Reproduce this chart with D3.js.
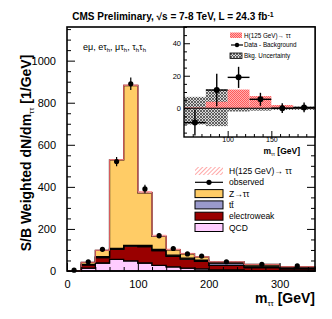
<!DOCTYPE html>
<html>
<head>
<meta charset="utf-8">
<script src="https://cdn.jsdelivr.net/npm/d3@7"></script>
<style>
  body { margin: 0; background: #fff; }
  svg { display: block; font-family: 'Liberation Sans', Arial, sans-serif; }
</style>
</head>
<body>
<div id="chart"></div>
<script>
// main histogram, 20 GeV bins then 50 GeV
const edges = [0, 20, 40, 60, 80, 100, 120, 140, 160, 180, 200, 250, 300, 350];
const qcd = [0, 14, 38, 55, 48, 38, 27, 20, 14, 10, 5, 2, 1];
const ewk = [0, 15, 26, 48, 70, 78, 70, 50, 42, 36, 22, 14, 9];
const ttbar = [0, 2, 4, 4, 4, 6, 6, 5, 5, 5, 10, 7, 4];
const ztt = [0, 10, 30, 421, 760, 250, 62, 26, 21, 16, 6, 8, 6];
const higgs = [0, 0, 1, 2, 3, 6, 5, 3, 2, 1, 1, 0.5, 0.3];
const observed = [4, 44, 103, 520, 890, 390, 168, 107, 81, 71, 44, 32, 24];
const observedErr = [2, 7, 10, 22, 30, 20, 12, 10, 8, 7, 4, 3, 3];
const yTicks = [0, 200, 400, 600, 800, 1000];
const xTicks = [0, 100, 200, 300];

// inset, 25 GeV bins
const insetEdges = [50, 75, 100, 125, 150, 175, 200];
const insetHiggs = [0.5, 4, 11.5, 7.5, 2, 0.5];
const insetUncUp = [7, 11.5, 2, 1.5, 1, 1];
const insetUncDown = [-10, -11, -2, -1.5, -1, -1];
const insetDiff = [-8.8, 11.2, 19, 5.5, 0, 0.5];
const insetDiffErr = [8, 10, 6.5, 4, 3, 3];
const insetYTicks = [0, 20, 40];
const insetXTicks = [100, 150];

const width = 332;
const height = 319;

const svg = d3.select('#chart').append('svg')
  .attr('width', width)
  .attr('height', height);

svg.append('rect').attr('width', width).attr('height', height).attr('fill', '#fff');

const defs = svg.append('defs');

// red hatch for signal
const hatch = defs.append('pattern')
  .attr('id', 'hatch')
  .attr('patternUnits', 'userSpaceOnUse')
  .attr('width', 3).attr('height', 3)
  .attr('patternTransform', 'rotate(45)');
hatch.append('rect').attr('width', 3).attr('height', 3).attr('fill', '#fff');
hatch.append('line').attr('x1', 0).attr('y1', 0).attr('x2', 0).attr('y2', 3)
  .attr('stroke', '#ff6f6f').attr('stroke-width', 1.2);

const hatchDense = defs.append('pattern')
  .attr('id', 'hatchDense')
  .attr('patternUnits', 'userSpaceOnUse')
  .attr('width', 2).attr('height', 2);
hatchDense.append('rect').attr('width', 2).attr('height', 2).attr('fill', '#ffb0b0');
hatchDense.append('rect').attr('width', 1).attr('height', 1).attr('fill', '#ff5a5a');
hatchDense.append('rect').attr('x', 1).attr('y', 1).attr('width', 1).attr('height', 1).attr('fill', '#ff5a5a');

const cross = defs.append('pattern')
  .attr('id', 'cross')
  .attr('patternUnits', 'userSpaceOnUse')
  .attr('width', 3).attr('height', 3);
cross.append('rect').attr('width', 3).attr('height', 3).attr('fill', '#d8d8d8');
cross.append('path').attr('d', 'M0,0L3,3M3,0L0,3').attr('stroke', '#444').attr('stroke-width', 0.8);

// ---- main plot ----
const pLeft = 67, pRight = 315, pTop = 27, pBottom = 271;
const x = d3.scaleLinear().domain([0, 350]).range([pLeft, pRight]);
const y = d3.scaleLinear().domain([0, 1160]).range([pBottom, pTop]);

const components = [
  {name: 'QCD', values: qcd, fill: '#ffccff'},
  {name: 'electroweak', values: ewk, fill: '#990000'},
  {name: 'tt', values: ttbar, fill: '#9999cc'},
  {name: 'ztt', values: ztt, fill: '#ffcc66'},
  {name: 'higgs', values: higgs, fill: 'url(#hatch)'},
];

const stepArea = d3.area()
  .x((d) => x(d.x))
  .y0((d) => y(d.y0))
  .y1((d) => y(d.y1))
  .curve(d3.curveStepAfter);

const base = edges.slice(0, -1).map(() => 0);
components.forEach((c) => {
  const pts = c.values.map((v, i) => ({x: edges[i], y0: base[i], y1: base[i] + v}));
  const n = pts.length - 1;
  pts.push({x: edges[n + 1], y0: pts[n].y0, y1: pts[n].y1});
  c.values.forEach((v, i) => { base[i] += v; });
  svg.append('path')
    .attr('d', stepArea(pts))
    .attr('fill', c.fill)
    .attr('stroke', c.name === 'higgs' ? '#ff6f6f' : '#000')
    .attr('stroke-width', c.name === 'higgs' ? 0.6 : 1.3);
});

// observed points
const centers = edges.slice(0, -1).map((e, i) => (e + edges[i + 1]) / 2);
const obs = svg.append('g');
obs.selectAll('line')
  .data(observed)
  .enter().append('line')
  .attr('x1', (d, i) => x(centers[i]))
  .attr('x2', (d, i) => x(centers[i]))
  .attr('y1', (d, i) => y(d - observedErr[i]))
  .attr('y2', (d, i) => y(d + observedErr[i]))
  .attr('stroke', '#000').attr('stroke-width', 1.2);
obs.selectAll('circle')
  .data(observed)
  .enter().append('circle')
  .attr('cx', (d, i) => x(centers[i]))
  .attr('cy', (d) => y(d))
  .attr('r', 2.6)
  .attr('fill', '#000');

// axes, ticks inside
const yAxisL = d3.axisLeft(y).tickValues(yTicks).tickFormat(d3.format('d')).tickSize(-8).tickPadding(11);
const yMinor = d3.range(0, 1160, 50).filter((v) => v % 200 !== 0);
const gy = svg.append('g').attr('transform', `translate(${pLeft},0)`).call(yAxisL);
gy.select('.domain').remove();
gy.selectAll('text').style('font-size', '11px').style('font-family', 'Liberation Sans, Arial, sans-serif');
svg.append('g').attr('transform', `translate(${pLeft},0)`)
  .call(d3.axisLeft(y).tickValues(yMinor).tickSize(-4).tickFormat(''))
  .select('.domain').remove();
svg.append('g').attr('transform', `translate(${pRight},0)`)
  .call(d3.axisRight(y).tickValues(yTicks).tickSize(-8).tickFormat(''))
  .select('.domain').remove();
svg.append('g').attr('transform', `translate(${pRight},0)`)
  .call(d3.axisRight(y).tickValues(yMinor).tickSize(-4).tickFormat(''))
  .select('.domain').remove();

const xMinor = d3.range(0, 351, 20).filter((v) => v % 100 !== 0);
const gx = svg.append('g').attr('transform', `translate(0,${pBottom})`)
  .call(d3.axisBottom(x).tickValues(xTicks).tickSize(-8).tickPadding(9));
gx.select('.domain').remove();
gx.selectAll('text').style('font-size', '11px').style('font-family', 'Liberation Sans, Arial, sans-serif');
svg.append('g').attr('transform', `translate(0,${pBottom})`)
  .call(d3.axisBottom(x).tickValues(xMinor).tickSize(-4).tickFormat(''))
  .select('.domain').remove();

svg.selectAll('.tick line').attr('stroke', '#000').attr('stroke-width', 1);

svg.append('rect')
  .attr('x', pLeft).attr('y', pTop)
  .attr('width', pRight - pLeft).attr('height', pBottom - pTop)
  .attr('fill', 'none').attr('stroke', '#000').attr('stroke-width', 1.6);

// title and labels
svg.append('text')
  .attr('x', 173).attr('y', 20)
  .attr('text-anchor', 'middle')
  .style('font-size', '10px').style('font-weight', 'bold')
  .html('CMS Preliminary, √s = 7-8 TeV, L = 24.3 fb<tspan dy="-3.5" font-size="7px">-1</tspan>');

const chan = svg.append('text')
  .attr('x', 83).attr('y', 50)
  .style('font-size', '9px');
chan.append('tspan').text('eμ, eτ');
chan.append('tspan').attr('dy', 2).style('font-size', '6px').text('h');
chan.append('tspan').attr('dy', -2).text(', μτ');
chan.append('tspan').attr('dy', 2).style('font-size', '6px').text('h');
chan.append('tspan').attr('dy', -2).text(', τ');
chan.append('tspan').attr('dy', 2).style('font-size', '6px').text('h');
chan.append('tspan').attr('dy', -2).text('τ');
chan.append('tspan').attr('dy', 2).style('font-size', '6px').text('h');

const ylab = svg.append('text')
  .attr('transform', 'translate(31,153) rotate(-90)')
  .attr('text-anchor', 'middle')
  .style('font-size', '14px').style('font-weight', 'bold');
ylab.append('tspan').text('S/B Weighted dN/dm');
ylab.append('tspan').attr('dy', 3).style('font-size', '8px').style('font-weight', 'normal').text('ττ');
ylab.append('tspan').attr('dy', -3).text(' [1/GeV]');

const xlab = svg.append('text')
  .attr('x', 315).attr('y', 303)
  .attr('text-anchor', 'end')
  .style('font-size', '14px').style('font-weight', 'bold');
xlab.append('tspan').text('m');
xlab.append('tspan').attr('dy', 3).style('font-size', '8px').style('font-weight', 'normal').text('ττ');
xlab.append('tspan').attr('dy', -3).text('  [GeV]');

// main legend
const legendItems = [
  {label: 'H(125 GeV)→ ττ', fill: 'url(#hatch)', kind: 'hatch'},
  {label: 'observed', kind: 'point'},
  {label: 'Z→ττ', fill: '#ffcc66', kind: 'box'},
  {label: 'tt̄', fill: '#9999cc', kind: 'box'},
  {label: 'electroweak', fill: '#990000', kind: 'box'},
  {label: 'QCD', fill: '#ffccff', kind: 'box'},
];
const leg = svg.append('g');
legendItems.forEach((d, i) => {
  const cy = 171 + i * 11.3;
  if (d.kind === 'point') {
    leg.append('line').attr('x1', 195).attr('x2', 223).attr('y1', cy).attr('y2', cy)
      .attr('stroke', '#000').attr('stroke-width', 1.2);
    leg.append('circle').attr('cx', 209).attr('cy', cy).attr('r', 2.6).attr('fill', '#000');
  } else {
    leg.append('rect').attr('x', 195).attr('y', cy - 4).attr('width', 28).attr('height', 8)
      .attr('fill', d.fill)
      .attr('stroke', d.kind === 'hatch' ? 'none' : '#000').attr('stroke-width', 1);
  }
  leg.append('text').attr('x', 229).attr('y', cy + 3)
    .style('font-size', '8.5px').text(d.label);
});

// ---- inset ----
const iL = 184, iR = 315, iT = 27, iB = 137;
const ix = d3.scaleLinear().domain([50, 200]).range([iL, iR]);
const iy = d3.scaleLinear().domain([-17.7, 50]).range([iB, iT]);

svg.append('rect').attr('x', iL).attr('y', iT).attr('width', iR - iL).attr('height', iB - iT)
  .attr('fill', '#fff');

defs.append('clipPath').attr('id', 'insetClip')
  .append('rect').attr('x', iL).attr('y', iT).attr('width', iR - iL).attr('height', iB - iT);
const inset = svg.append('g').attr('clip-path', 'url(#insetClip)');

const insetBins = insetEdges.slice(0, -1).map((e, i) => ({x0: e, x1: insetEdges[i + 1]}));

inset.selectAll('rect.unc')
  .data(insetBins)
  .enter().append('rect')
  .attr('class', 'unc')
  .attr('x', (d) => ix(d.x0))
  .attr('width', (d) => ix(d.x1) - ix(d.x0))
  .attr('y', (d, i) => iy(insetUncUp[i]))
  .attr('height', (d, i) => iy(insetUncDown[i]) - iy(insetUncUp[i]))
  .attr('fill', 'url(#cross)');

inset.selectAll('rect.sig')
  .data(insetBins)
  .enter().append('rect')
  .attr('class', 'sig')
  .attr('x', (d) => ix(d.x0))
  .attr('width', (d) => ix(d.x1) - ix(d.x0))
  .attr('y', (d, i) => iy(insetHiggs[i]))
  .attr('height', (d, i) => iy(0) - iy(insetHiggs[i]))
  .attr('fill', 'url(#hatchDense)');

inset.append('line')
  .attr('x1', iL).attr('x2', iR).attr('y1', iy(0)).attr('y2', iy(0))
  .attr('stroke', '#000').attr('stroke-width', 1.2);

insetBins.forEach((b, i) => {
  const cx = ix((b.x0 + b.x1) / 2);
  inset.append('line').attr('x1', ix(b.x0)).attr('x2', ix(b.x1))
    .attr('y1', iy(insetDiff[i])).attr('y2', iy(insetDiff[i]))
    .attr('stroke', '#000').attr('stroke-width', 1.4);
  inset.append('line').attr('x1', cx).attr('x2', cx)
    .attr('y1', iy(insetDiff[i] - insetDiffErr[i])).attr('y2', iy(insetDiff[i] + insetDiffErr[i]))
    .attr('stroke', '#000').attr('stroke-width', 1.4);
  inset.append('circle').attr('cx', cx).attr('cy', iy(insetDiff[i])).attr('r', 3).attr('fill', '#000');
});

const iyMinor = d3.range(-15, 51, 5).filter((v) => v % 20 !== 0);
const giy = svg.append('g').attr('transform', `translate(${iL},0)`)
  .call(d3.axisLeft(iy).tickValues(insetYTicks).tickSize(-6).tickPadding(3));
giy.select('.domain').remove();
giy.selectAll('text').style('font-size', '7.5px').style('font-family', 'Liberation Sans, Arial, sans-serif');
svg.append('g').attr('transform', `translate(${iL},0)`)
  .call(d3.axisLeft(iy).tickValues(iyMinor).tickSize(-3).tickFormat(''))
  .select('.domain').remove();

const ixMinor = d3.range(60, 200, 10).filter((v) => v % 50 !== 0);
const gix = svg.append('g').attr('transform', `translate(0,${iB})`)
  .call(d3.axisBottom(ix).tickValues(insetXTicks).tickSize(-6).tickPadding(0.5));
gix.select('.domain').remove();
gix.selectAll('text').style('font-size', '7px').style('font-family', 'Liberation Sans, Arial, sans-serif');
svg.append('g').attr('transform', `translate(0,${iB})`)
  .call(d3.axisBottom(ix).tickValues(ixMinor).tickSize(-3).tickFormat(''))
  .select('.domain').remove();

svg.selectAll('.tick line').attr('stroke', '#000');

svg.append('rect').attr('x', iL).attr('y', iT).attr('width', iR - iL).attr('height', iB - iT)
  .attr('fill', 'none').attr('stroke', '#000').attr('stroke-width', 1.4);

const ixlab = svg.append('text')
  .attr('x', 300).attr('y', 154)
  .attr('text-anchor', 'end')
  .style('font-size', '8.5px').style('font-weight', 'bold');
ixlab.append('tspan').text('m');
ixlab.append('tspan').attr('dy', 2).style('font-size', '5px').style('font-weight', 'normal').text('ττ');
ixlab.append('tspan').attr('dy', -2).text('  [GeV]');

// inset legend
const ileg = svg.append('g');
ileg.append('rect').attr('x', 230).attr('y', 32.5).attr('width', 12).attr('height', 5.5)
  .attr('fill', 'url(#hatchDense)');
ileg.append('text').attr('x', 244).attr('y', 37.5).style('font-size', '6.3px').text('H(125 GeV)→ ττ');
ileg.append('line').attr('x1', 231).attr('x2', 243).attr('y1', 45).attr('y2', 45)
  .attr('stroke', '#000').attr('stroke-width', 1.2);
ileg.append('circle').attr('cx', 237).attr('cy', 45).attr('r', 2.2).attr('fill', '#000');
ileg.append('text').attr('x', 244).attr('y', 47).style('font-size', '6.3px').text('Data - Background');
ileg.append('rect').attr('x', 230).attr('y', 53).attr('width', 12).attr('height', 5.5)
  .attr('fill', 'url(#cross)').attr('stroke', '#000').attr('stroke-width', 0.8);
ileg.append('text').attr('x', 244).attr('y', 58).style('font-size', '6.3px').text('Bkg. Uncertainty');
</script>
</body>
</html>
